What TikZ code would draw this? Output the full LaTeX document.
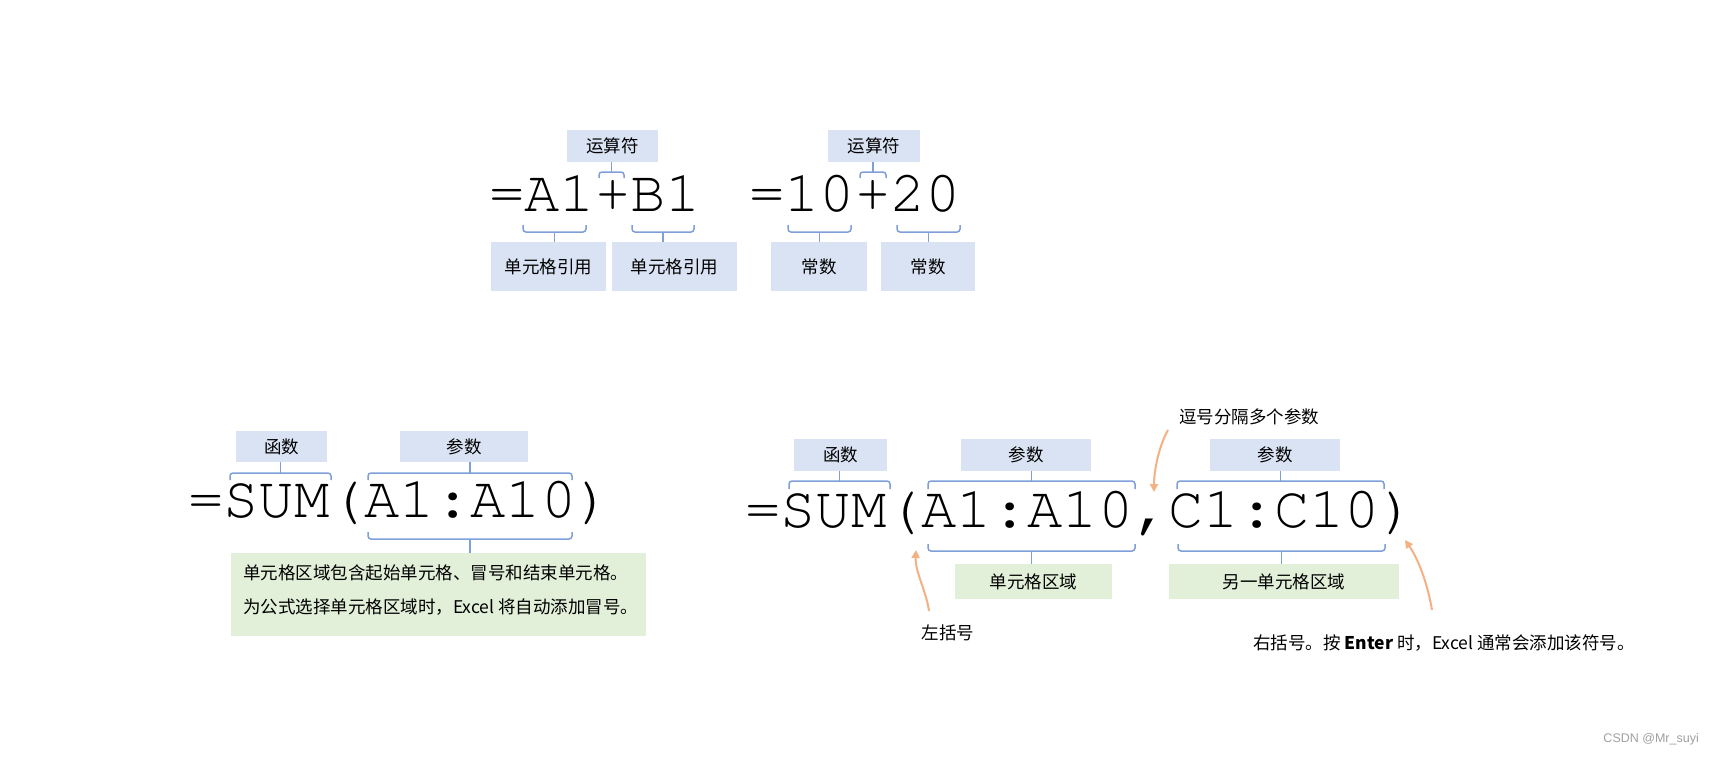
\documentclass[tikz,border=0pt]{standalone}
\usepackage[T1,TU]{fontenc}
\usepackage{fontspec}
\setmainfont{Noto Sans CJK SC}
\newfontfamily\cjk{Noto Sans CJK SC}
\newfontfamily\wmfont{Liberation Sans}
\usetikzlibrary{arrows.meta}
\definecolor{boxblue}{HTML}{DAE3F3}
\definecolor{boxgreen}{HTML}{E2F0D9}
\definecolor{bracecol}{HTML}{7F9FD9}
\definecolor{arrowcol}{HTML}{F4B183}
\definecolor{wmgrey}{HTML}{A0A0A0}
\newcommand\formfont{\fontencoding{T1}\fontfamily{pcr}\fontseries{m}\fontshape{n}\fontsize{58.8}{60}\selectfont}
\newcommand\labfont{\cjk\fontsize{17.5}{20}\selectfont}
\newcommand\bracebar[4]{\draw[brc,rounded corners=3pt] (#1,#4) -- (#1,#3) -- (#2,#3) -- (#2,#4);}
\tikzset{
  lblbox/.style={fill=boxblue, inner sep=0pt, font=\labfont, text=black},
  notebox/.style={fill=boxgreen, inner sep=0pt, font=\labfont, text=black},
  formula/.style={anchor=base west, inner sep=0pt, font=\formfont, text=black},
  brc/.style={draw=bracecol, line width=1.5pt},
  callout/.style={draw=arrowcol, line width=2pt, -{Triangle[length=8pt,width=8pt]}},
  plainlbl/.style={inner sep=0pt, font=\labfont, text=black}
}
\begin{document}
\begin{tikzpicture}[x=1pt,y=-1pt]
\useasboundingbox[fill=white] (0,0) rectangle (1714,764);

% formulas
\node[formula] (fa) at (489,211) {=A1+B1};
\node[formula] (fb) at (749,211) {=10+20};
\node[formula] (fc) at (188,517) {=SUM(A1:A10)};
\node[formula] (fd) at (745,527) {=SUM(A1:A10,C1:C10)};

% top-row label boxes
\node[lblbox, minimum width=91pt, minimum height=32pt] (ru1) at (612.5,146) {运算符};
\node[lblbox, minimum width=92pt, minimum height=32pt] (ru2) at (874,146) {运算符};
\node[lblbox, minimum width=115pt, minimum height=49pt] (ref1) at (548.5,266.5) {单元格引用};
\node[lblbox, minimum width=125pt, minimum height=49pt] (ref2) at (674.5,266.5) {单元格引用};
\node[lblbox, minimum width=96pt, minimum height=49pt] (c1) at (819,266.5) {常数};
\node[lblbox, minimum width=94pt, minimum height=49pt] (c2) at (928,266.5) {常数};

% bottom-left boxes
\node[lblbox, minimum width=91pt, minimum height=31pt] (f1) at (281.5,446.5) {函数};
\node[lblbox, minimum width=128pt, minimum height=31pt] (p1) at (464,446.5) {参数};
\node[notebox, minimum width=415pt, minimum height=83pt] (note) at (438.5,594.5) {};
\node[plainlbl, anchor=west, align=left, font=\cjk\fontsize{17.5}{34}\selectfont] (notetext) at (243,590)
  {单元格区域包含起始单元格、冒号和结束单元格。\\为公式选择单元格区域时，Excel 将自动添加冒号。};

% bottom-right boxes
\node[lblbox, minimum width=93pt, minimum height=32pt] (f2) at (840.5,455) {函数};
\node[lblbox, minimum width=130pt, minimum height=32pt] (p2) at (1026,455) {参数};
\node[lblbox, minimum width=130pt, minimum height=32pt] (p3) at (1275,455) {参数};
\node[notebox, minimum width=157pt, minimum height=35pt] (g1) at (1033.5,581.5) {单元格区域};
\node[notebox, minimum width=230pt, minimum height=35pt] (g2) at (1284,581.5) {另一单元格区域};

% free labels
\node[plainlbl, anchor=west] (comma) at (1179,417) {逗号分隔多个参数};
\node[plainlbl] (lpar) at (948,633) {左括号};
\node[plainlbl, anchor=west] (rpar) at (1253,643) {右括号。按 {\bfseries Enter} 时，Excel 通常会添加该符号。};
\node[inner sep=0pt, anchor=east, font=\wmfont\fontsize{12.5}{14}\selectfont, text=wmgrey] (wm) at (1699,739) {CSDN @Mr\_suyi};

% braces, formula 1 and 2
\bracebar{599}{624}{172}{178}
\coordinate (bp1) at (611.5,172);
\draw[brc] (bp1) -- (bp1 |- ru1.south);
\bracebar{860}{886}{172}{178}
\coordinate (bp2) at (873,172);
\draw[brc] (bp2) -- (bp2 |- ru2.south);
\bracebar{523}{586}{232}{225}
\coordinate (ba1) at (554.5,232);
\draw[brc] (ba1) -- (ba1 |- ref1.north);
\bracebar{632}{694}{232}{225}
\coordinate (bb1) at (663,232);
\draw[brc] (bb1) -- (bb1 |- ref2.north);
\bracebar{788}{851}{232}{225}
\coordinate (b10) at (819.5,232);
\draw[brc] (b10) -- (b10 |- c1.north);
\bracebar{897}{960}{232}{225}
\coordinate (b20) at (928.5,232);
\draw[brc] (b20) -- (b20 |- c2.north);

% braces, formula 3
\bracebar{230}{331}{473}{480}
\coordinate (bsum1) at (280.5,473);
\draw[brc] (bsum1) -- (bsum1 |- f1.south);
\bracebar{368}{572}{473}{480}
\coordinate (barg1) at (470,473);
\draw[brc] (barg1) -- (barg1 |- p1.south);
\bracebar{368}{572}{539}{532}
\coordinate (bnote) at (470,539);
\draw[brc] (bnote) -- (bnote |- note.north);

% braces, formula 4
\bracebar{789}{890}{481}{489}
\coordinate (bsum2) at (839.5,481);
\draw[brc] (bsum2) -- (bsum2 |- f2.south);
\bracebar{928}{1135}{481}{489}
\coordinate (barg2) at (1031.5,481);
\draw[brc] (barg2) -- (barg2 |- p2.south);
\bracebar{1177}{1384}{481}{489}
\coordinate (barg3) at (1280.5,481);
\draw[brc] (barg3) -- (barg3 |- p3.south);
\bracebar{928}{1135}{551}{544}
\coordinate (bg1) at (1031.5,551);
\draw[brc] (bg1) -- (bg1 |- g1.north);
\bracebar{1178}{1385}{551}{544}
\coordinate (bg2) at (1281.5,551);
\draw[brc] (bg2) -- (bg2 |- g2.north);

% callout arrows
\coordinate (lpT) at (929,611);
\coordinate (lpH) at (916,550);
\draw[callout] (lpT) .. controls (926,590) and (915,572) .. (lpH);
\coordinate (cmT) at (1168,430);
\coordinate (cmH) at (1154,492);
\draw[callout] (cmT) .. controls (1159,446) and (1154,470) .. (cmH);
\coordinate (rpT) at (1432,610);
\coordinate (rpH) at (1405,540);
\draw[callout] (rpT) .. controls (1428,586) and (1419,560) .. (rpH);
\end{tikzpicture}
\end{document}
